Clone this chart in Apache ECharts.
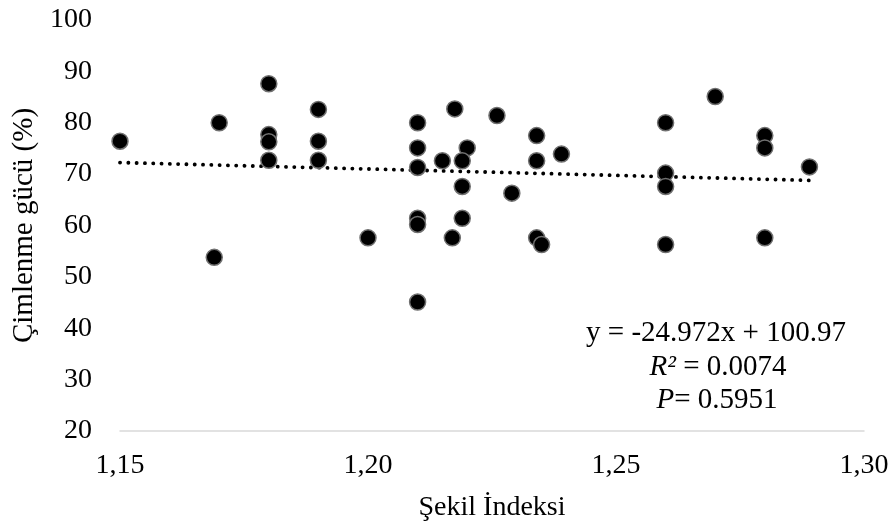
<!DOCTYPE html>
<html>
<head>
<meta charset="utf-8">
<script src="https://cdn.jsdelivr.net/npm/echarts@6/dist/echarts.min.js"></script>
<style>
  html, body { margin: 0; padding: 0; background: #fff; }
  #chart { width: 894px; height: 527px; }
</style>
</head>
<body>
<div id="chart"></div>
<script>
// Şekil indeksi (x) ve çimlenme gücü (y) değerleri
const shapeIndex = [
  1.150, 1.170, 1.169, 1.180, 1.180, 1.180, 1.180, 1.190, 1.190, 1.190,
  1.200, 1.210, 1.210, 1.210, 1.210, 1.210, 1.210, 1.2175, 1.226, 1.215,
  1.220, 1.219, 1.219, 1.219, 1.217, 1.229, 1.234, 1.234, 1.239, 1.234,
  1.235, 1.260, 1.260, 1.260, 1.260, 1.270, 1.280, 1.280, 1.280, 1.289
];
const germination = [
  76.4, 80.0, 53.8, 87.6, 77.7, 76.3, 72.7, 82.6, 76.4, 72.7,
  57.6, 80.0, 75.1, 71.3, 61.4, 60.2, 45.1, 82.7, 81.4, 72.6,
  75.1, 72.6, 67.6, 61.4, 57.6, 66.3, 77.5, 72.6, 73.9, 57.6,
  56.3, 80.0, 70.2, 67.6, 56.3, 85.1, 77.5, 75.1, 57.6, 71.4
];

// Doğrusal eğilim çizgisi (grafikteki denklem)
const slope = -24.972;
const intercept = 100.97;
const trendX = [1.15, 1.289];

const xTicks = ['1,15', '1,20', '1,25', '1,30'];

const font = '"Liberation Serif", "Times New Roman", serif';

const points = shapeIndex.map((x, i) => [x, germination[i]]);
const trendLine = trendX.map(x => [x, slope * x + intercept]);

const chart = echarts.init(document.getElementById('chart'));

const noteStyle = {
  fontFamily: font, fontSize: 29, fill: '#000',
  textAlign: 'center', textVerticalAlign: 'middle',
  rich: { i: { fontFamily: font, fontSize: 29, fontStyle: 'italic' } }
};

chart.setOption({
  animation: false,
  textStyle: { fontFamily: font },
  grid: { left: 120, right: 30, top: 20, bottom: 95 },
  xAxis: {
    type: 'value',
    min: 1.15,
    max: 1.30,
    interval: 0.05,
    name: 'Şekil İndeksi',
    nameLocation: 'middle',
    nameGap: 63,
    nameTextStyle: { fontFamily: font, fontSize: 28, color: '#000' },
    axisLine: { show: true, lineStyle: { color: '#d9d9d9', width: 1.5 } },
    axisTick: { show: false },
    splitLine: { show: false },
    axisLabel: {
      fontFamily: font, fontSize: 28, color: '#000', margin: 21,
      formatter: v => xTicks[Math.round((v - 1.15) / 0.05)] || ''
    }
  },
  yAxis: {
    type: 'value',
    min: 20,
    max: 100,
    interval: 10,
    name: 'Çimlenme gücü (%)',
    nameLocation: 'middle',
    nameGap: 81,
    nameTextStyle: { fontFamily: font, fontSize: 29, color: '#000', padding: [0, 0, 0, 0] },
    axisLine: { show: false },
    axisTick: { show: false },
    splitLine: { show: false },
    axisLabel: { fontFamily: font, fontSize: 28, color: '#000', margin: 28 }
  },
  series: [
    {
      type: 'line',
      data: trendLine,
      symbol: 'none',
      lineStyle: { color: '#000', width: 3.8, type: [0.1, 8.2], cap: 'round' },
      z: 1
    },
    {
      type: 'scatter',
      data: points,
      symbol: 'circle',
      symbolSize: 16,
      itemStyle: { color: '#000', opacity: 1, borderColor: '#707070', borderWidth: 1.5 },
      z: 2
    }
  ],
  graphic: [
    {
      type: 'text',
      x: 716, y: 333,
      style: Object.assign({}, noteStyle, { text: 'y = -24.972x + 100.97' })
    },
    {
      type: 'text',
      x: 718, y: 367,
      style: Object.assign({}, noteStyle, { text: '{i|R²} = 0.0074' })
    },
    {
      type: 'text',
      x: 717, y: 400,
      style: Object.assign({}, noteStyle, { text: '{i|P}= 0.5951' })
    }
  ]
});
</script>
</body>
</html>
